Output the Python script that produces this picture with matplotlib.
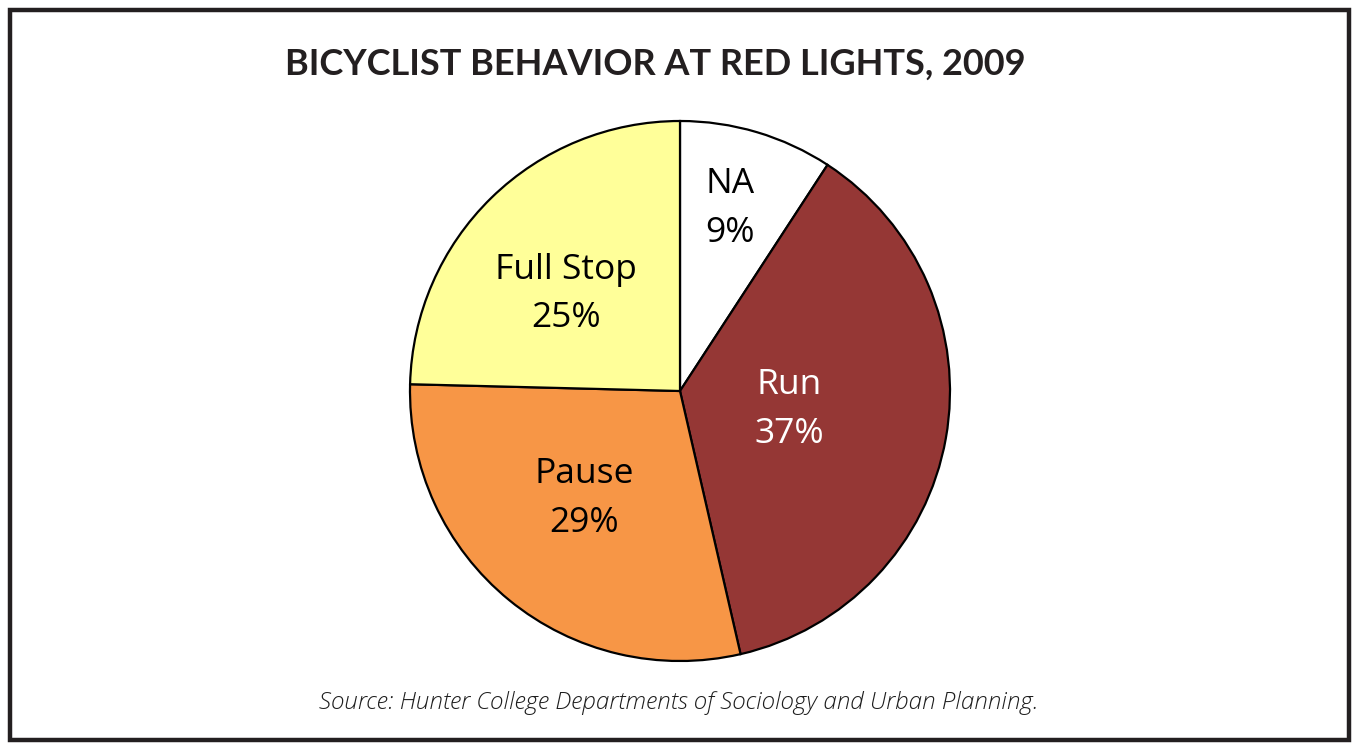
import matplotlib.pyplot as plt
import matplotlib.patches as patches
import numpy as np

categories = ['NA', 'Run', 'Pause', 'Full Stop']
shares = [9.2, 37.2, 29.0, 24.6]
colors = ['#FFFFFF', '#953735', '#F79646', '#FFFF99']
text_colors = ['black', 'white', 'black', 'black']
# label placement inside each wedge (fraction of radius, angle tweak in degrees)
label_radius = [0.71, 0.41, 0.527, 0.561]
label_shift = [1.5, 1.8, -3.3, 4.4]

W, H = 1357, 744
fig = plt.figure(figsize=(W / 100, H / 100), dpi=100)
fig.patch.set_facecolor('white')

# frame around the whole picture
fig.patches.append(patches.Rectangle((10 / W, 4 / H), (W - 18) / W, (H - 14) / H,
                                     transform=fig.transFigure, fill=False,
                                     edgecolor='#231F20', linewidth=3.2))

cx, cy, r = 680, 391, 270
ax = fig.add_axes([(cx - r) / W, (H - cy - r) / H, 2 * r / W, 2 * r / H])
wedges, _ = ax.pie(shares, colors=colors, startangle=90, counterclock=False,
                   wedgeprops=dict(edgecolor='black', linewidth=1.6))
for w in wedges:
    w.set_clip_on(False)
ax.set_xlim(-1, 1)
ax.set_ylim(-1, 1)
ax.set_aspect('equal')
ax.axis('off')

for w, cat, val, tc, lr, sh in zip(wedges, categories, shares, text_colors,
                                   label_radius, label_shift):
    ang = np.deg2rad((w.theta1 + w.theta2) / 2 + sh)
    ax.text(lr * np.cos(ang), lr * np.sin(ang) - 0.01, f'{cat}\n{val:.0f}%',
            ha='center', va='center', fontsize=25.5, color=tc,
            family='Open Sans', linespacing=1.55)

fig.text(655 / W, 1 - 64 / H, 'BICYCLIST BEHAVIOR AT RED LIGHTS, 2009',
         ha='center', va='center', fontsize=26, fontweight='bold',
         family='Lato', color='#231F20')
fig.text(679 / W, 1 - 703 / H,
         'Source: Hunter College Departments of Sociology and Urban Planning.',
         ha='center', va='center', fontsize=17.5, style='italic',
         fontweight='light', family='Open Sans', color='#1e1e1e')

fig.savefig('out.png', dpi=100)
